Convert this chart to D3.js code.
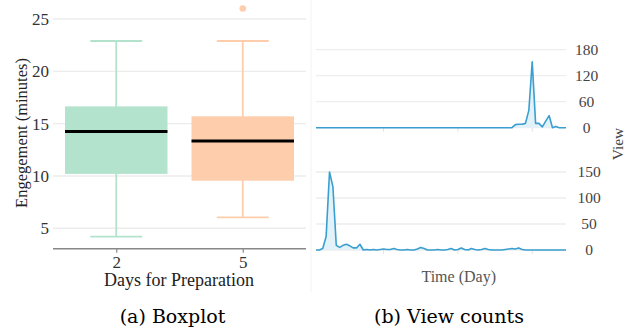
<!DOCTYPE html>
<html>
<head>
<meta charset="utf-8">
<script src="https://d3js.org/d3.v7.min.js"></script>
<style>
  body { margin: 0; background: #fff; }
  svg { display: block; }
</style>
</head>
<body>
<div id="chart"></div>
<script>

// (a) boxplot
var boxCategories = ["2", "5"];
var boxLower = [4.2, 6.05];
var boxQ1 = [10.2, 9.55];
var boxMedian = [14.25, 13.35];
var boxQ3 = [16.65, 15.7];
var boxUpper = [22.9, 22.9];
var boxColors = ["#b3e2cd", "#fdcdac"];
var outlierCategory = ["5"];
var outlierValue = [26];
var engagementTicks = [5, 10, 15, 20, 25];

// (b) view counts per day
var viewsTop = [0,0,0,0,0,0,0,0,0,0, 0,0,0,0,0,0,0,0,0,0,
                0,0,0,0,0,0,0,0,0,0, 0,0,0,0,0,0,0,0,0,0,
                0,0,0,0,0,0,0,0,0,0, 0,0,0,0,0,0,0,0,0,7,
                8,8,10,40,152,10,10,2,15,28, 0,3,0,0,0];
var viewsBottom = [0,0,3,26,150,122,9,5,9,11, 8,4,4,11,0,1,0,1,0,1,
                   2,1,1,3,1,0,0,1,0,0, 2,5,3,0,0,0,1,0,0,1,
                   3,0,1,4,1,0,3,1,0,1, 3,1,0,0,0,0,1,2,3,2,
                   4,1,0,0,0,0,0,0,0,0, 0,0,0,0,0];
var topTicks = [0, 60, 120, 180];
var bottomTicks = [0, 50, 100, 150];
var timeTicks = [20, 42, 64];

var serif = "'Liberation Serif', 'Times New Roman', serif";

var svg = d3.select("#chart")
  .append("svg")
    .attr("width", 635)
    .attr("height", 329);

// ---------- left: boxplot ----------
var x = d3.scalePoint()
  .domain(boxCategories)
  .range([53, 306])
  .padding(0.5);
var step = x.step();

var y = d3.scaleLinear()
  .domain([5, 25])
  .range([228.3, 19]);

var axisY = 248.7;

svg.append("g")
  .selectAll("line")
  .data(engagementTicks)
  .enter().append("line")
    .attr("x1", 53).attr("x2", 306)
    .attr("y1", function(d) { return y(d); })
    .attr("y2", function(d) { return y(d); })
    .attr("stroke", "#ececec")
    .attr("stroke-width", 1.4);

svg.append("g")
  .selectAll("text")
  .data(engagementTicks)
  .enter().append("text")
    .attr("x", 49)
    .attr("y", function(d) { return y(d); })
    .attr("dy", "0.35em")
    .attr("text-anchor", "end")
    .style("font-family", serif)
    .style("font-size", "17px")
    .style("fill", "#333")
    .text(function(d) { return d; });

var boxes = svg.append("g")
  .selectAll("g")
  .data(boxCategories)
  .enter().append("g");

boxes.append("line")
  .attr("x1", function(d) { return x(d); })
  .attr("x2", function(d) { return x(d); })
  .attr("y1", function(d, i) { return y(boxLower[i]); })
  .attr("y2", function(d, i) { return y(boxUpper[i]); })
  .attr("stroke", function(d, i) { return boxColors[i]; })
  .attr("stroke-width", 1.8);

boxes.append("line")
  .attr("x1", function(d) { return x(d) - step * 0.205; })
  .attr("x2", function(d) { return x(d) + step * 0.205; })
  .attr("y1", function(d, i) { return y(boxLower[i]); })
  .attr("y2", function(d, i) { return y(boxLower[i]); })
  .attr("stroke", function(d, i) { return boxColors[i]; })
  .attr("stroke-width", 1.8);

boxes.append("line")
  .attr("x1", function(d) { return x(d) - step * 0.205; })
  .attr("x2", function(d) { return x(d) + step * 0.205; })
  .attr("y1", function(d, i) { return y(boxUpper[i]); })
  .attr("y2", function(d, i) { return y(boxUpper[i]); })
  .attr("stroke", function(d, i) { return boxColors[i]; })
  .attr("stroke-width", 1.8);

boxes.append("rect")
  .attr("x", function(d) { return x(d) - step * 0.405; })
  .attr("width", step * 0.81)
  .attr("y", function(d, i) { return y(boxQ3[i]); })
  .attr("height", function(d, i) { return y(boxQ1[i]) - y(boxQ3[i]); })
  .attr("fill", function(d, i) { return boxColors[i]; });

boxes.append("line")
  .attr("x1", function(d) { return x(d) - step * 0.405; })
  .attr("x2", function(d) { return x(d) + step * 0.405; })
  .attr("y1", function(d, i) { return y(boxMedian[i]); })
  .attr("y2", function(d, i) { return y(boxMedian[i]); })
  .attr("stroke", "#000")
  .attr("stroke-width", 3);

svg.append("g")
  .selectAll("circle")
  .data(outlierValue)
  .enter().append("circle")
    .attr("cx", function(d, i) { return x(outlierCategory[i]); })
    .attr("cy", function(d) { return y(d); })
    .attr("r", 3.3)
    .attr("fill", boxColors[1]);

var xAxis = svg.append("g")
  .attr("transform", "translate(0," + axisY + ")")
  .call(d3.axisBottom(x).tickSize(4).tickSizeOuter(0).tickPadding(3));
xAxis.select(".domain").attr("stroke", "#888").attr("stroke-width", 1.5)
  .attr("d", "M53,0H306");
xAxis.selectAll(".tick line").attr("stroke", "#888").attr("stroke-width", 1.2);
xAxis.selectAll(".tick text")
  .style("font-family", serif)
  .style("font-size", "17px")
  .style("fill", "#333");

svg.append("text")
  .attr("x", 179)
  .attr("y", 286)
  .attr("text-anchor", "middle")
  .style("font-family", serif)
  .style("font-size", "18px")
  .style("fill", "#222")
  .text("Days for Preparation");

svg.append("text")
  .attr("transform", "translate(27,133) rotate(-90)")
  .attr("text-anchor", "middle")
  .style("font-family", serif)
  .style("font-size", "16.5px")
  .style("fill", "#222")
  .text("Engegement (minutes)");

// ---------- right: view counts ----------
svg.append("line")
  .attr("x1", 311).attr("x2", 311)
  .attr("y1", 0).attr("y2", 292)
  .attr("stroke", "#f3f3f3");

var t = d3.scaleLinear()
  .domain([0, viewsTop.length - 1])
  .range([316, 566]);

var yTop = d3.scaleLinear().domain([0, 180]).range([127.7, 49.7]);
var yBot = d3.scaleLinear().domain([0, 150]).range([250, 172]);

function drawPanel(values, yScale, ticks, labelX) {
  var g = svg.append("g");

  g.selectAll(".grid")
    .data(ticks)
    .enter().append("line")
      .attr("x1", 316).attr("x2", 566)
      .attr("y1", function(d) { return yScale(d); })
      .attr("y2", function(d) { return yScale(d); })
      .attr("stroke", "#ededed")
      .attr("stroke-width", 1.3);

  g.selectAll(".vt")
    .data(timeTicks)
    .enter().append("line")
      .attr("x1", function(d) { return t(d); })
      .attr("x2", function(d) { return t(d); })
      .attr("y1", yScale(0))
      .attr("y2", yScale(0) + 4)
      .attr("stroke", "#e2e2e2");

  var area = d3.area()
    .x(function(d, i) { return t(i); })
    .y0(yScale(0))
    .y1(function(d) { return yScale(d); });
  var line = d3.line()
    .x(function(d, i) { return t(i); })
    .y(function(d) { return yScale(d); });

  g.append("path")
    .datum(values)
    .attr("d", area)
    .attr("fill", "#e3f1f8");

  g.append("path")
    .datum(values)
    .attr("d", line)
    .attr("fill", "none")
    .attr("stroke", "#3a9fd0")
    .attr("stroke-width", 1.6)
    .attr("stroke-linejoin", "round");

  g.selectAll(".lab")
    .data(ticks)
    .enter().append("text")
      .attr("x", labelX)
      .attr("y", function(d) { return yScale(d); })
      .attr("dy", "0.35em")
      .attr("text-anchor", "middle")
      .style("font-family", serif)
      .style("font-size", "15.5px")
      .style("fill", "#444")
      .text(function(d) { return d; });
}

drawPanel(viewsTop, yTop, topTicks, 586.5);
drawPanel(viewsBottom, yBot, bottomTicks, 589);

svg.append("text")
  .attr("transform", "translate(623,144) rotate(-90)")
  .attr("text-anchor", "middle")
  .style("font-family", serif)
  .style("font-size", "15.5px")
  .style("fill", "#444")
  .text("View");

svg.append("text")
  .attr("x", 458.7)
  .attr("y", 282)
  .attr("text-anchor", "middle")
  .style("font-family", serif)
  .style("font-size", "16px")
  .style("fill", "#555")
  .text("Time (Day)");

// ---------- captions ----------
var capFont = "'DejaVu Serif', serif";
svg.append("text")
  .attr("x", 172.5)
  .attr("y", 323)
  .attr("text-anchor", "middle")
  .style("font-family", capFont)
  .style("font-size", "19px")
  .style("fill", "#000")
  .text("(a) Boxplot");

svg.append("text")
  .attr("x", 449)
  .attr("y", 323)
  .attr("text-anchor", "middle")
  .style("font-family", capFont)
  .style("font-size", "19px")
  .style("fill", "#000")
  .text("(b) View counts");

</script>
</body>
</html>
